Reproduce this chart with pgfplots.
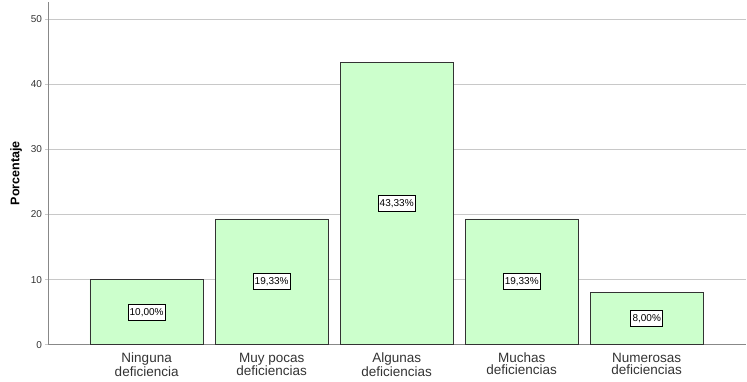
\documentclass[border=0pt]{standalone}
\usepackage{pgfplots}
\pgfplotsset{compat=1.18}
\usepackage{fontspec}
\setmainfont{Liberation Sans}
\definecolor{barfill}{HTML}{CCFFCC}
\definecolor{axisgrey}{HTML}{888888}
\definecolor{gridgrey}{HTML}{C8C8C8}
\definecolor{txt}{HTML}{333333}
\begin{document}
\begin{tikzpicture}[x=1pt,y=1pt]
\path[use as bounding box] (0,0) rectangle (747,382);
\begin{axis}[
  at={(48.5pt,37.3pt)}, anchor=south west,
  scale only axis, width=697pt, height=342.7pt,
  xmin=-0.785, xmax=4.79, ymin=0, ymax=52.66,
  axis x line=bottom, axis y line=left,
  axis line style={-, axisgrey, line width=1.4pt},
  ytick={0,10,20,30,40,50},
  ymajorgrids, grid style={gridgrey, line width=0.8pt},
  y tick style={gridgrey, line width=0.8pt},
  tick align=outside, major tick length=3pt,
  xtick={0,1,2,3,4},
  x tick style={draw=none},
  xticklabels={{Ninguna\\deficiencia},{Muy pocas\\deficiencias},{Algunas\\deficiencias},{Muchas\\deficiencias},{Numerosas\\deficiencias}},
  xticklabel style={align=center, font=\fontsize{13.5}{12.3}\selectfont, text=txt, yshift=-1.5pt},
  yticklabel style={font=\fontsize{10}{12}\selectfont, text=txt},
  /pgf/number format/assume math mode=true,
  ylabel={\textbf{Porcentaje}},
  ylabel style={font=\fontsize{12.5}{14}\selectfont, text=black},
  ylabel shift=2pt,
  clip=false,
]
\addplot[ybar, bar width=113.3pt, fill=barfill, draw=black!80, line width=0.7pt] coordinates {
  (0,10.00) (1,19.33) (2,43.33) (3,19.33) (4,8.00)
};
\addplot[only marks, mark=none, nodes near coords, point meta=explicit symbolic,
  every node near coord/.style={anchor=center, draw=black, line width=0.6pt, fill=white, inner xsep=1.8pt, inner ysep=0pt, minimum height=16pt, font=\fontsize{10}{11}\selectfont, text=black}]
  table[meta=label] {
x y label
0 5.00 10,00\%
1 9.665 19,33\%
2 21.665 43,33\%
3 9.665 19,33\%
4 4.00 8,00\%
};
\end{axis}
\end{tikzpicture}
\end{document}
